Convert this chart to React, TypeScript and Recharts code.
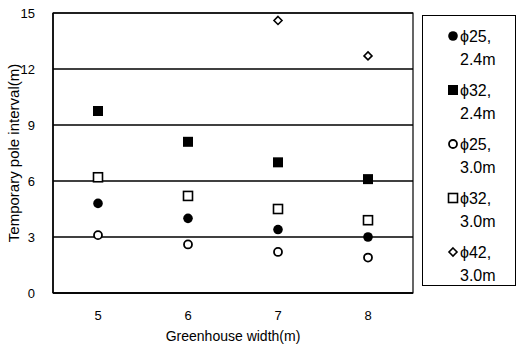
import React from "react";
import {
  ComposedChart,
  Line,
  XAxis,
  YAxis,
  CartesianGrid,
  ReferenceArea,
} from "recharts";

const widths = ["5", "6", "7", "8"];
const phi25_24 = [4.8, 4.0, 3.4, 3.0];
const phi32_24 = [9.75, 8.1, 7.0, 6.1];
const phi25_30 = [3.1, 2.6, 2.2, 1.9];
const phi32_30 = [6.2, 5.2, 4.5, 3.9];
const phi42_30 = [null, null, 14.6, 12.7];
const yTicks = [0, 3, 6, 9, 12, 15];

const FONT = "'Liberation Sans', Arial, sans-serif";

type Kind = "circle" | "square" | "ocircle" | "osquare" | "diamond";

const series: { key: string; name1: string; name2: string; kind: Kind }[] = [
  { key: "a", name1: "\u03d525,", name2: "2.4m", kind: "circle" },
  { key: "b", name1: "\u03d532,", name2: "2.4m", kind: "square" },
  { key: "c", name1: "\u03d525,", name2: "3.0m", kind: "ocircle" },
  { key: "d", name1: "\u03d532,", name2: "3.0m", kind: "osquare" },
  { key: "e", name1: "\u03d542,", name2: "3.0m", kind: "diamond" },
];

const data = widths.map((w, i) => ({
  w,
  a: phi25_24[i],
  b: phi32_24[i],
  c: phi25_30[i],
  d: phi32_30[i],
  e: phi42_30[i],
}));

const Marker = ({ kind, cx, cy }: { kind: Kind; cx: number; cy: number }) => {
  switch (kind) {
    case "circle":
      return <circle cx={cx} cy={cy} r={4.8} fill="#000" />;
    case "square":
      return <rect x={cx - 5} y={cy - 5} width={10} height={10} fill="#000" />;
    case "ocircle":
      return <circle cx={cx} cy={cy} r={4} fill="#fff" stroke="#000" strokeWidth={1.8} />;
    case "osquare":
      return (
        <rect x={cx - 4.5} y={cy - 4.5} width={9} height={9} fill="#fff" stroke="#000" strokeWidth={1.6} />
      );
    case "diamond":
      return (
        <polygon
          points={`${cx},${cy - 4} ${cx + 4},${cy} ${cx},${cy + 4} ${cx - 4},${cy}`}
          fill="#fff"
          stroke="#000"
          strokeWidth={1.6}
        />
      );
  }
  return null;
};

const makeDot = (kind: Kind) => (props: any) => {
  const { cx, cy, value, index } = props;
  if (value == null || cx == null || cy == null) return <g key={index} />;
  return (
    <g key={index}>
      <Marker kind={kind} cx={cx} cy={cy} />
    </g>
  );
};

const LegendBox = () => (
  <div
    style={{
      position: "absolute",
      left: 422,
      top: 15,
      width: 94,
      height: 271,
      border: "1px solid #000",
      boxSizing: "border-box",
      background: "#fff",
      fontFamily: FONT,
      fontSize: 16,
      color: "#000",
    }}
  >
    {series.map((s, i) => (
      <div key={s.key} style={{ position: "absolute", left: 0, top: 8 + i * 54, width: 92 }}>
        <svg width={20} height={20} style={{ position: "absolute", left: 20, top: 2 }}>
          <Marker kind={s.kind} cx={10} cy={10} />
        </svg>
        <div style={{ position: "absolute", left: 37, top: 1, lineHeight: "23px", whiteSpace: "nowrap" }}>
          {s.name1}
          <br />
          {s.name2}
        </div>
      </div>
    ))}
  </div>
);

export default function App() {
  return (
    <div style={{ position: "absolute", left: 0, top: 0, width: 518, height: 347, background: "#fff" }}>
      <ComposedChart
        width={518}
        height={347}
        data={data}
        margin={{ top: 13, right: 105, bottom: 0, left: 0 }}
      >
        <CartesianGrid vertical={false} stroke="#000" strokeWidth={1.3} />
        <ReferenceArea y1={0} y2={15} fill="none" stroke="#000" strokeWidth={1.2} />
        <XAxis
          dataKey="w"
          type="category"
          scale="band"
          height={54}
          axisLine={{ stroke: "#000", strokeWidth: 1.5 }}
          tickLine={false}
          tickMargin={12}
          tick={{ fill: "#000", fontSize: 13, fontFamily: FONT }}
          label={{
            value: "Greenhouse width(m)",
            position: "insideBottom",
            offset: 6,
            fill: "#000",
            fontSize: 14,
            fontFamily: FONT,
          }}
        />
        <YAxis
          width={53}
          domain={[0, 15]}
          ticks={yTicks}
          interval={0}
          axisLine={{ stroke: "#000", strokeWidth: 1.5 }}
          tickLine={false}
          tickMargin={12}
          tick={{ fill: "#000", fontSize: 13, fontFamily: FONT }}
          label={{
            value: "Temporary pole interval(m)",
            angle: -90,
            position: "insideLeft",
            offset: 14,
            style: { textAnchor: "middle" },
            fill: "#000",
            fontSize: 15,
            fontFamily: FONT,
          }}
        />
        {series.map((s) => (
          <Line
            key={s.key}
            dataKey={s.key}
            stroke="none"
            isAnimationActive={false}
            dot={makeDot(s.kind)}
            activeDot={false}
            legendType="none"
          />
        ))}
      </ComposedChart>
      <LegendBox />
    </div>
  );
}
